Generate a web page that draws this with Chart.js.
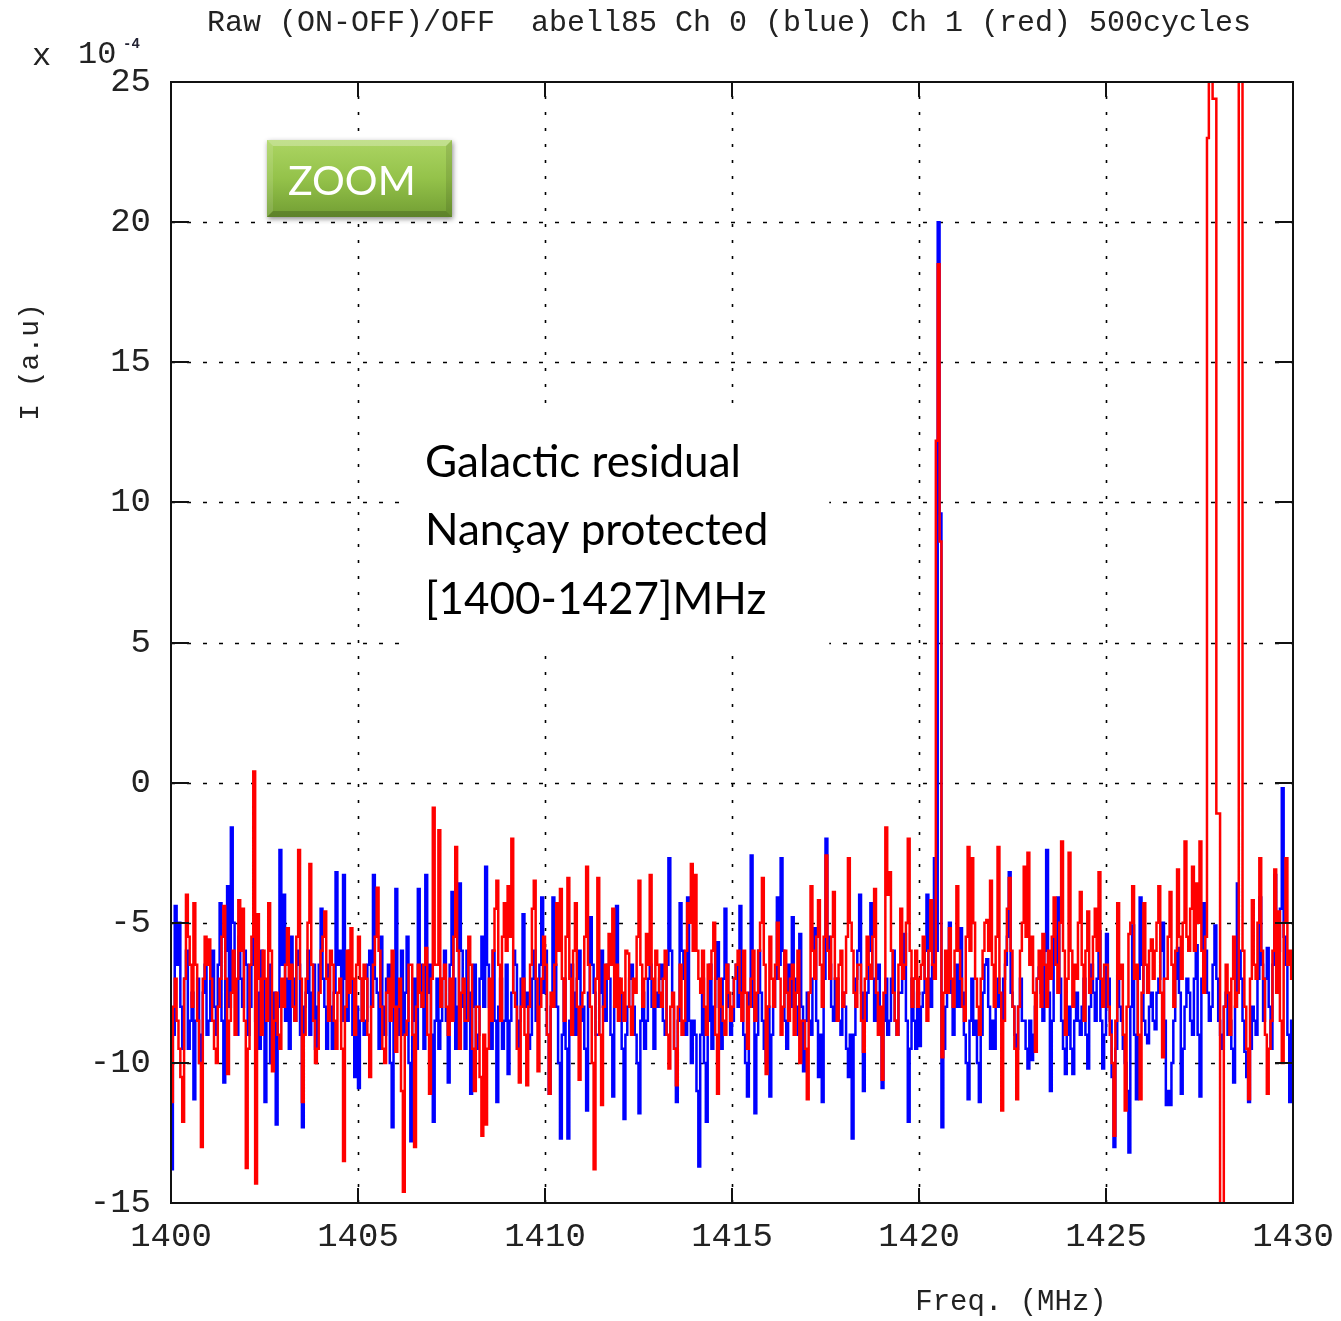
<!DOCTYPE html>
<html>
<head>
<meta charset="utf-8">
<script src="https://cdn.jsdelivr.net/npm/chart.js@4.4.1/dist/chart.umd.min.js"></script>
<style>
  html, body { margin: 0; padding: 0; background: #ffffff; }
  #wrap { width: 1341px; height: 1321px; }
</style>
</head>
<body>
<div id="wrap"><canvas id="c" width="1341" height="1321"></canvas></div>
<script>
// ---------------- DATA ----------------
const titleText = 'Raw (ON-OFF)/OFF  abell85 Ch 0 (blue) Ch 1 (red) 500cycles';
const xAxisLabel = 'Freq. (MHz)';
const yAxisLabel = 'I (a.u)';
const annotationLines = ['Galactic residual', 'Nançay protected', '[1400-1427]MHz'];
const buttonText = 'ZOOM';

const xTicks = [1400, 1405, 1410, 1415, 1420, 1425, 1430];
const yTicks = [-15, -10, -5, 0, 5, 10, 15, 20, 25];

// spectrometer channels are 0.05 MHz wide, starting at 1400.00 MHz.
// "Even" arrays hold channels at 1400.00, 1400.10, ...; "Odd" arrays hold 1400.05, 1400.15, ...
const firstChannel = 1400.0;
const channelWidth = 0.05;

// Ch 0 (blue), units of 1e-4
const blueEven = [
  -13.8, -4.4, -5.0, -9.5, -6.0, -8.5, -11.3, -7.0, -9.0, -6.5,
  -8.5, -6.0, -9.0, -4.3, -10.7, -3.7, -1.6, -7.5, -5.5, -8.0,
  -6.5, -8.0, -5.5, -7.5, -6.0, -11.4, -6.5, -9.0, -12.2, -2.4,
  -4.0, -7.0, -5.5, -8.5, -6.5, -12.3, -7.5, -9.0, -6.5, -8.0,
  -4.5, -8.0, -6.5, -9.5, -3.2, -6.0, -3.3, -8.5, -7.0, -10.5,
  -10.9, -7.0, -8.5, -6.0, -3.3, -7.5, -5.5, -9.0, -6.5, -12.3,
  -3.8, -7.5, -9.0, -5.5, -12.8, -7.0, -3.8, -8.0, -3.3, -6.5,
  -12.1, -7.0, -8.5, -6.0, -10.7, -3.9, -9.5, -3.6, -8.0, -6.0,
  -11.1, -6.5, -9.0, -5.5, -3.0, -8.0, -6.0, -11.4, -7.0, -8.5,
  -10.4, -7.5, -6.5, -8.5, -4.7, -7.5, -9.0, -6.0, -8.0, -4.1,
  -6.0, -11.1, -4.1, -8.0, -12.7, -7.0, -12.7, -6.5, -9.0, -6.0,
  -8.0, -11.7, -4.8, -7.5, -9.0, -6.0, -8.5, -7.0, -11.2, -4.4,
  -7.5, -12.0, -8.0, -6.5, -9.0, -11.8, -7.5, -8.5, -6.5, -9.5,
  -8.0, -6.5, -9.0, -2.7, -8.0, -11.4, -4.3, -7.0, -4.1, -10.0,
  -9.0, -13.7, -7.0, -12.1, -6.5, -8.0, -5.7, -9.5, -4.5, -8.0,
  -8.5, -6.5, -4.4, -9.0, -11.2, -2.6, -11.8, -6.0, -8.5, -10.0,
  -11.2, -8.0, -4.1, -2.7, -8.5, -6.5, -4.8, -8.0, -5.4, -10.3,
  -7.5, -9.0, -5.2, -10.5, -11.4, -2.0, -6.5, -8.5, -7.0, -9.0,
  -8.0, -10.5, -12.7, -7.0, -4.0, -11.0, -7.5, -4.3, -8.5, -6.5,
  -10.9, -7.0, -8.5, -6.0, -9.0, -7.5, -5.4, -12.1, -7.0, -9.5,
  -9.4, -7.5, -4.0, -8.0, -2.7, 20.0, -12.3, -8.0, -5.0, -9.0,
  -6.5, -5.2, -9.0, -11.3, -7.0, -8.5, -11.4, -7.5, -6.3, -9.5,
  -9.5, -7.0, -8.5, -6.5, -3.2, -8.0, -9.5, -7.0, -8.5, -10.2,
  -9.9, -8.0, -6.6, -8.5, -2.4, -11.0, -5.5, -4.1, -8.5, -10.4,
  -8.0, -10.4, -7.5, -9.0, -7.0, -10.2, -6.5, -8.5, -5.3, -10.2,
  -5.4, -8.5, -13.0, -6.9, -8.5, -10.0, -13.2, -5.1, -11.3, -4.1,
  -8.5, -9.3, -7.5, -8.8, -7.0, -5.0, -11.5, -11.5, -8.5, -5.9,
  -11.1, -8.0, -7.5, -9.0, -5.8, -11.2, -4.3, -7.5, -8.0, -5.1,
  -8.5, -9.5, -7.5, -8.5, -10.7, -3.6, -7.0, -9.6, -11.4, -8.0,
  -9.0, -4.1, -8.5, -5.9, -9.5, -3.3, -6.0, -0.2, -6.5, -11.4
];
const blueOdd = [
  -9.0, -6.5, -8.0, -7.0, -9.5, -7.5, -8.5, -10.0, -7.5, -9.0,
  -7.0, -8.0, -6.5, -8.5, -6.0, -8.0, -5.0, -9.0, -7.0, -6.0,
  -9.0, -6.5, -8.5, -9.5, -7.0, -8.5, -10.0, -7.5, -8.0, -6.5,
  -8.5, -9.5, -7.0, -6.0, -9.0, -8.0, -6.0, -7.5, -9.5, -6.5,
  -7.0, -9.5, -8.0, -7.5, -6.5, -8.5, -7.0, -6.0, -9.0, -8.0,
  -8.5, -9.0, -6.5, -8.0, -7.0, -9.5, -8.0, -7.0, -10.0, -8.0,
  -9.0, -6.0, -7.5, -10.0, -8.5, -9.5, -6.5, -9.5, -7.5, -9.0,
  -8.5, -9.5, -7.0, -8.5, -6.5, -7.0, -8.0, -6.0, -9.5, -7.5,
  -8.0, -9.5, -7.0, -8.0, -6.5, -9.5, -8.5, -8.0, -9.5, -6.5,
  -8.5, -6.0, -9.5, -7.0, -8.0, -9.5, -7.0, -8.5, -6.5, -7.5,
  -9.0, -8.0, -6.5, -10.0, -9.0, -9.5, -8.5, -7.5, -7.0, -8.5,
  -9.5, -7.5, -6.5, -9.0, -7.5, -8.0, -6.5, -9.0, -8.0, -7.0,
  -9.5, -9.0, -7.0, -8.0, -10.0, -8.5, -9.5, -7.0, -8.0, -7.5,
  -7.0, -8.5, -6.5, -6.0, -9.5, -8.5, -6.0, -9.0, -8.5, -8.5,
  -11.0, -9.0, -10.0, -8.5, -9.5, -7.0, -8.0, -7.0, -6.5, -9.0,
  -7.0, -8.0, -7.5, -10.0, -7.5, -8.0, -9.0, -7.5, -9.5, -8.0,
  -9.0, -7.0, -6.5, -6.0, -9.5, -8.0, -7.0, -9.0, -8.0, -8.5,
  -8.5, -7.0, -8.5, -9.0, -7.0, -5.5, -8.0, -7.0, -8.5, -7.5,
  -9.5, -9.0, -9.0, -6.0, -7.5, -8.5, -6.0, -7.0, -7.0, -9.0,
  -8.5, -9.0, -7.0, -8.5, -7.5, -6.5, -8.5, -9.5, -8.5, -7.5,
  -8.0, -6.0, -7.0, -6.5, -6.0, 9.6, -9.5, -6.5, -7.5, -8.0,
  -8.0, -7.5, -10.0, -8.5, -9.0, -10.0, -9.0, -6.5, -8.0, -8.5,
  -8.0, -8.0, -7.0, -5.5, -7.5, -9.0, -8.0, -8.5, -9.5, -8.5,
  -9.0, -7.0, -7.5, -6.0, -7.5, -8.5, -6.5, -7.0, -9.5, -9.0,
  -9.5, -8.5, -8.5, -8.0, -9.0, -8.0, -7.5, -7.0, -8.5, -9.0,
  -7.0, -10.5, -9.5, -8.0, -9.5, -11.0, -8.0, -9.0, -7.0, -6.5,
  -9.0, -8.0, -8.5, -7.5, -6.0, -8.5, -11.0, -10.0, -7.0, -7.5,
  -9.5, -7.0, -8.5, -7.0, -9.0, -7.0, -6.0, -8.5, -6.5, -7.0,
  -9.0, -8.0, -9.0, -9.5, -8.0, -6.0, -8.5, -10.5, -9.5, -8.5,
  -7.0, -6.5, -7.0, -8.0, -6.5, -5.0, -4.5, -5.5, -9.0, -8.5
];

// Ch 1 (red), units of 1e-4 (values beyond the axis range are off-scale RFI)
const redEven = [
  -11.4, -7.0, -9.5, -12.1, -4.0, -6.5, -4.3, -8.5, -13.0, -5.5,
  -5.6, -8.5, -10.0, -7.0, -4.4, -10.4, -7.5, -9.0, -4.2, -4.5,
  -13.75, -6.5, 0.4, -4.7, -9.0, -7.0, -4.3, -10.3, -7.5, -9.5,
  -8.0, -5.2, -6.5, -8.5, -2.4, -11.4, -7.0, -2.9, -8.5, -9.5,
  -6.0, -4.6, -8.5, -6.5, -9.5, -7.0, -13.5, -6.0, -5.2, -9.0,
  -5.5, -8.5, -7.0, -10.5, -6.5, -3.75, -8.0, -10.0, -7.0, -6.0,
  -9.6, -7.0, -14.6, -8.5, -6.5, -13.0, -6.5, -8.0, -5.9, -11.1,
  -0.9, -6.5, -8.0, -6.5, -9.0, -8.5, -2.3, -9.5, -7.0, -8.5,
  -6.5, -11.0, -8.0, -12.6, -12.2, -7.0, -6.0, -3.5, -8.5, -4.3,
  -3.7, -2.0, -8.0, -10.7, -7.0, -10.8, -6.5, -3.5, -10.3, -7.0,
  -6.5, -11.1, -8.0, -4.3, -3.8, -8.5, -3.4, -9.0, -4.3, -10.6,
  -7.5, -3.0, -8.0, -13.8, -3.4, -11.5, -6.5, -5.4, -4.5, -6.5,
  -7.0, -8.5, -6.1, -9.0, -7.5, -3.5, -8.0, -5.4, -3.3, -8.0,
  -6.5, -8.0, -6.0, -10.2, -7.5, -10.8, -6.5, -8.5, -4.3, -2.9,
  -3.3, -7.0, -6.0, -9.0, -7.0, -5.0, -11.1, -8.0, -9.0, -7.5,
  -8.0, -6.5, -7.5, -6.0, -9.5, -7.0, -8.5, -6.0, -3.4, -10.4,
  -5.5, -8.0, -5.0, -9.0, -6.0, -8.5, -6.5, -7.5, -10.0, -8.5,
  -11.3, -3.7, -7.0, -4.2, -8.0, -2.6, -7.0, -3.9, -8.5, -6.0,
  -7.5, -2.7, -6.0, -8.0, -6.5, -9.6, -5.5, -7.0, -3.8, -9.0,
  -10.6, -1.6, -3.2, -7.5, -9.0, -4.5, -6.5, -2.0, -8.0, -6.0,
  -7.0, -5.5, -8.5, -4.2, -7.0, 18.5, -9.8, -6.0, -5.2, -8.0,
  -3.7, -7.0, -8.5, -2.3, -2.7, -7.0, -9.0, -6.0, -4.9, -3.5,
  -8.0, -2.3, -11.7, -6.0, -3.4, -8.0, -11.3, -6.0, -3.0, -2.5,
  -5.5, -9.6, -6.0, -5.4, -8.0, -7.0, -4.1, -7.5, -2.1, -9.0,
  -2.5, -8.0, -7.0, -3.9, -8.5, -4.6, -7.0, -4.5, -3.2, -8.0,
  -6.5, -9.0, -12.6, -4.3, -6.5, -11.7, -5.4, -3.7, -6.5, -11.3,
  -4.3, -7.5, -5.6, -6.0, -3.7, -9.8, -7.0, -3.9, -8.0, -3.1,
  -7.0, -2.1, -6.0, -3.0, -3.6, -2.1, -7.5, 23.0, 40.0, 24.4,
  -1.1, -22.0, -6.5, -9.0, -5.5, -7.5, 40.0, -8.0, -11.3, -4.2,
  -7.0, -2.7, -7.0, -11.1, -8.5, -3.1, -4.6, -10.0, -2.7, -6.0
];
const redOdd = [
  -8.0, -8.5, -10.5, -7.0, -5.5, -8.0, -6.5, -10.0, -7.0, -6.5,
  -7.0, -9.5, -8.0, -5.5, -7.0, -8.5, -6.0, -7.0, -6.0, -8.5,
  -9.5, -5.5, -14.3, -7.0, -6.0, -8.5, -6.0, -8.5, -9.0, -7.0,
  -6.5, -7.0, -8.0, -5.5, -7.0, -9.0, -5.0, -6.5, -10.0, -7.5,
  -5.5, -7.0, -6.0, -8.5, -7.5, -9.5, -8.0, -7.5, -7.0, -6.5,
  -7.0, -6.5, -9.0, -8.0, -5.5, -6.0, -9.5, -7.5, -8.5, -8.0,
  -8.0, -11.0, -9.0, -6.5, -9.0, -8.0, -7.5, -6.5, -9.0, -7.0,
  -6.5, -1.7, -7.0, -8.0, -7.0, -5.5, -6.0, -7.5, -8.5, -5.5,
  -9.5, -8.0, -10.5, -9.0, -9.5, -8.5, -4.5, -6.5, -5.5, -6.0,
  -5.5, -7.5, -9.5, -8.0, -9.0, -8.0, -4.5, -7.0, -8.0, -5.5,
  -9.0, -7.5, -6.5, -6.0, -7.0, -5.5, -7.0, -6.0, -8.0, -8.0,
  -5.5, -6.5, -10.0, -7.0, -9.0, -8.0, -7.0, -6.5, -8.0, -8.5,
  -7.5, -6.0, -8.0, -7.0, -5.5, -6.5, -7.0, -6.5, -7.0, -6.0,
  -7.5, -7.0, -9.0, -8.0, -9.5, -8.0, -9.0, -6.0, -5.0, -6.0,
  -6.0, -7.5, -8.0, -6.5, -6.0, -9.0, -7.0, -8.5, -6.5, -8.5,
  -7.0, -6.0, -8.5, -7.5, -8.0, -6.0, -7.5, -5.0, -6.5, -8.0,
  -7.0, -6.5, -7.0, -8.0, -7.5, -7.0, -9.0, -6.0, -8.5, -9.5,
  -7.5, -6.0, -5.5, -6.5, -5.5, -6.0, -5.5, -7.0, -6.5, -8.0,
  -5.5, -5.0, -7.5, -6.5, -8.5, -7.0, -6.5, -5.5, -7.5, -8.0,
  -7.5, -4.0, -6.0, -8.5, -6.5, -7.0, -5.0, -6.0, -7.0, -8.0,
  -6.5, -7.0, -6.0, -6.5, 12.2, 8.6, -7.5, -7.5, -7.0, -6.0,
  -6.0, -8.0, -5.5, -6.0, -5.0, -8.0, -7.0, -5.0, -6.0, -6.5,
  -5.5, -7.5, -8.5, -4.5, -6.0, -9.5, -8.0, -5.0, -5.5, -6.5,
  -7.5, -7.0, -8.0, -6.5, -6.0, -5.5, -6.5, -5.0, -6.0, -7.0,
  -6.0, -6.5, -5.0, -6.5, -6.0, -7.5, -5.5, -6.0, -7.0, -6.5,
  -8.0, -10.0, -8.5, -7.0, -9.0, -8.0, -5.0, -7.0, -9.0, -7.5,
  -6.5, -6.0, -7.0, -5.0, -7.5, -7.0, -5.5, -6.5, -6.0, -5.5,
  -5.0, -5.5, -4.5, -6.0, -5.0, -6.0, -5.5, 40.0, 24.4, -1.1,
  -22.0, -8.0, -7.5, -7.0, -8.0, 40.0, -6.0, -9.5, -7.0, -6.5,
  -5.0, -6.0, -9.0, -9.5, -6.0, -7.5, -8.5, -5.0, -6.5, -7.0
];

// ---------------- BUILD ----------------
function buildSeries(even, odd) {
  const pts = [];
  for (let i = 0; i < even.length; i++) {
    pts.push({ x: +(firstChannel + 2 * i * channelWidth).toFixed(3), y: even[i] });
    pts.push({ x: +(firstChannel + (2 * i + 1) * channelWidth).toFixed(3), y: odd[i] });
  }
  pts.push({ x: xTicks[xTicks.length - 1], y: pts[pts.length - 1].y });
  return pts;
}
const bluePts = buildSeries(blueEven, blueOdd);
const redPts = buildSeries(redEven, redOdd);

const MONO = '"Liberation Mono", "DejaVu Sans Mono", monospace';
const SANS = 'Lato, "Open Sans", sans-serif';

const decorPlugin = {
  id: 'decor',
  beforeDatasetsDraw(chart) {
    const { ctx, chartArea: a, scales: { x, y } } = chart;
    ctx.save();
    ctx.strokeStyle = '#000';
    ctx.lineWidth = 1.6;
    ctx.setLineDash([3, 13]);
    xTicks.forEach(t => {
      if (t === xTicks[0] || t === xTicks[xTicks.length - 1]) return;
      const px = Math.round(x.getPixelForValue(t)) + 0.5;
      ctx.beginPath(); ctx.moveTo(px, a.bottom); ctx.lineTo(px, a.top); ctx.stroke();
    });
    ctx.setLineDash([4, 12]);
    yTicks.forEach(t => {
      if (t === yTicks[0] || t === yTicks[yTicks.length - 1]) return;
      const py = Math.round(y.getPixelForValue(t)) + 0.5;
      ctx.beginPath(); ctx.moveTo(a.left, py); ctx.lineTo(a.right, py); ctx.stroke();
    });
    ctx.setLineDash([]);
    // white box behind the annotation
    const bx0 = x.getPixelForValue(1406.15), bx1 = x.getPixelForValue(1417.6);
    const by0 = y.getPixelForValue(13.5), by1 = y.getPixelForValue(4.6);
    ctx.fillStyle = '#fff';
    ctx.fillRect(bx0, by0, bx1 - bx0, by1 - by0);
    ctx.restore();
  },
  afterDraw(chart) {
    const { ctx, chartArea: a, scales: { x, y } } = chart;
    ctx.save();
    ctx.strokeStyle = '#111';
    ctx.lineWidth = 2;
    ctx.strokeRect(a.left, a.top, a.right - a.left, a.bottom - a.top);
    xTicks.forEach(t => {
      const px = Math.round(x.getPixelForValue(t));
      ctx.beginPath(); ctx.moveTo(px, a.bottom); ctx.lineTo(px, a.bottom - 15); ctx.stroke();
      ctx.beginPath(); ctx.moveTo(px, a.top); ctx.lineTo(px, a.top + 15); ctx.stroke();
    });
    yTicks.forEach(t => {
      const py = Math.round(y.getPixelForValue(t));
      ctx.beginPath(); ctx.moveTo(a.left, py); ctx.lineTo(a.left + 18, py); ctx.stroke();
      ctx.beginPath(); ctx.moveTo(a.right, py); ctx.lineTo(a.right - 18, py); ctx.stroke();
    });

    ctx.fillStyle = '#222';
    ctx.textBaseline = 'middle';
    ctx.textAlign = 'center';
    ctx.font = '30px ' + MONO;
    ctx.fillText(titleText, 729, 23);
    ctx.font = '29px ' + MONO;
    ctx.fillText(xAxisLabel, 1011, 1302);
    ctx.save();
    ctx.translate(31, 362);
    ctx.rotate(-Math.PI / 2);
    ctx.font = '28px ' + MONO;
    ctx.fillText(yAxisLabel, 0, 0);
    ctx.restore();
    ctx.textAlign = 'left';
    ctx.font = '32px ' + MONO;
    ctx.fillText('x', 32, 57);
    ctx.fillText('10', 78, 55);
    ctx.font = 'bold 14px ' + MONO;
    ctx.fillStyle = '#223';
    ctx.fillText('-4', 123, 44);

    ctx.fillStyle = '#000';
    ctx.textBaseline = 'alphabetic';
    let fs = 40;
    ctx.font = fs + 'px ' + SANS;
    const w = ctx.measureText(annotationLines[0]).width;
    fs = fs * 316 / w;
    ctx.font = fs.toFixed(1) + 'px ' + SANS;
    const baseY = [477, 545, 614];
    annotationLines.forEach((s, i) => ctx.fillText(s, 425, baseY[i]));

    // ZOOM button
    const bx = 267, by = 140, bw = 185, bh = 77;
    ctx.save();
    ctx.shadowColor = 'rgba(0,0,0,0.45)';
    ctx.shadowBlur = 5;
    ctx.shadowOffsetX = 1;
    ctx.shadowOffsetY = 2;
    const g = ctx.createLinearGradient(0, by, 0, by + bh);
    g.addColorStop(0, '#acd563');
    g.addColorStop(0.5, '#94c24a');
    g.addColorStop(1, '#729e33');
    ctx.fillStyle = g;
    ctx.fillRect(bx, by, bw, bh);
    ctx.restore();
    ctx.fillStyle = 'rgba(255,255,255,0.28)';
    ctx.beginPath(); ctx.moveTo(bx, by); ctx.lineTo(bx + bw, by); ctx.lineTo(bx + bw - 6, by + 6); ctx.lineTo(bx + 6, by + 6); ctx.closePath(); ctx.fill();
    ctx.fillStyle = 'rgba(255,255,255,0.12)';
    ctx.beginPath(); ctx.moveTo(bx, by); ctx.lineTo(bx + 6, by + 6); ctx.lineTo(bx + 6, by + bh - 6); ctx.lineTo(bx, by + bh); ctx.closePath(); ctx.fill();
    ctx.fillStyle = 'rgba(0,0,0,0.18)';
    ctx.beginPath(); ctx.moveTo(bx, by + bh); ctx.lineTo(bx + 6, by + bh - 6); ctx.lineTo(bx + bw - 6, by + bh - 6); ctx.lineTo(bx + bw, by + bh); ctx.closePath(); ctx.fill();
    ctx.fillStyle = 'rgba(0,0,0,0.10)';
    ctx.beginPath(); ctx.moveTo(bx + bw, by); ctx.lineTo(bx + bw, by + bh); ctx.lineTo(bx + bw - 6, by + bh - 6); ctx.lineTo(bx + bw - 6, by + 6); ctx.closePath(); ctx.fill();
    ctx.fillStyle = '#fff';
    ctx.font = '41px ' + SANS;
    ctx.fillText(buttonText, 288, 195);
    ctx.restore();
  }
};

new Chart(document.getElementById('c'), {
  type: 'line',
  data: {
    datasets: [
      { label: 'Ch 1', data: redPts, borderColor: '#ff0000', borderWidth: 2.5, pointRadius: 0, stepped: 'before', fill: false, tension: 0 },
      { label: 'Ch 0', data: bluePts, borderColor: '#0000ff', borderWidth: 2.5, pointRadius: 0, stepped: 'before', fill: false, tension: 0 }
    ]
  },
  options: {
    responsive: false,
    animation: false,
    events: [],
    layout: { padding: { top: 82, right: 48, left: 0, bottom: 0 } },
    plugins: { legend: { display: false }, tooltip: { enabled: false }, title: { display: false } },
    scales: {
      x: {
        type: 'linear', min: xTicks[0], max: xTicks[xTicks.length - 1],
        afterBuildTicks: s => { s.ticks = xTicks.map(v => ({ value: v })); },
        afterFit: s => { s.height = 118; s.paddingLeft = 0; s.paddingRight = 0; },
        grid: { display: false, drawTicks: false },
        border: { display: false },
        ticks: { color: '#222', font: { family: MONO, size: 34 }, padding: 14, maxRotation: 0, autoSkip: false, callback: v => String(v) }
      },
      y: {
        type: 'linear', min: yTicks[0], max: yTicks[yTicks.length - 1],
        afterBuildTicks: s => { s.ticks = yTicks.map(v => ({ value: v })); },
        afterFit: s => { s.width = 171; s.paddingTop = 0; s.paddingBottom = 0; },
        grid: { display: false, drawTicks: false },
        border: { display: false },
        ticks: { color: '#222', font: { family: MONO, size: 34 }, padding: 20, autoSkip: false, callback: v => String(v) }
      }
    }
  },
  plugins: [decorPlugin]
});
</script>
</body>
</html>
